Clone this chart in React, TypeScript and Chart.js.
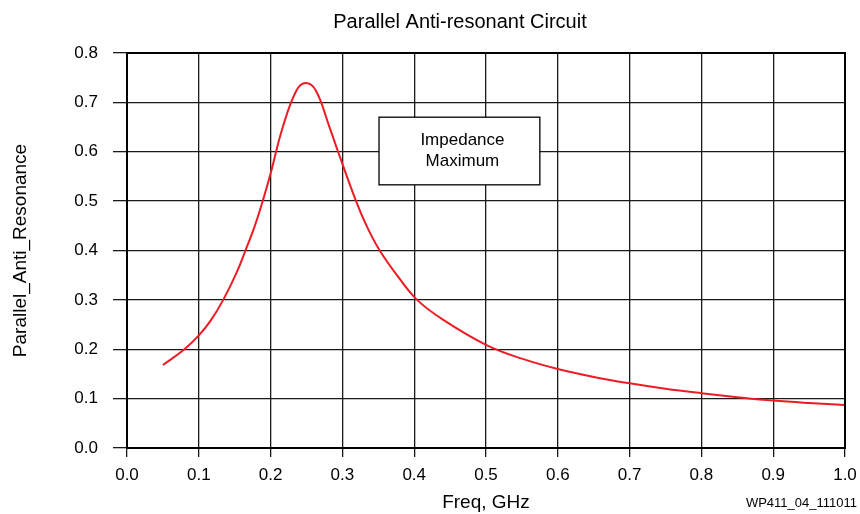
import { useEffect, useRef } from "react";
import { Chart, registerables } from "chart.js";

Chart.register(...registerables);

// Frequency sweep (GHz) and the anti-resonance response at each frequency
const freqGHz = [
  0.05, 0.08, 0.1, 0.117, 0.134, 0.152, 0.165, 0.178, 0.189, 0.2, 0.217, 0.236,
  0.249, 0.263, 0.282, 0.294, 0.319, 0.334, 0.352, 0.378, 0.404, 0.44, 0.5,
  0.55, 0.6, 0.65, 0.7, 0.75, 0.8, 0.85, 0.9, 0.95, 1.0,
];
const antiResonance = [
  0.168, 0.2, 0.228, 0.259, 0.3, 0.353, 0.4, 0.45, 0.5, 0.556, 0.65, 0.724,
  0.739, 0.724, 0.65, 0.6, 0.5, 0.449, 0.4, 0.346, 0.3, 0.26, 0.209, 0.181,
  0.16, 0.144, 0.131, 0.12, 0.111, 0.103, 0.096, 0.091, 0.087,
];

const chartTitle = "Parallel Anti-resonant Circuit";
const xAxisTitle = "Freq, GHz";
const yAxisTitle = "Parallel_Anti_Resonance";
const figureId = "WP411_04_111011";
const calloutLines = ["Impedance", "Maximum"];
// Callout extent in data units (GHz, response)
const calloutBox = { x0: 0.351, x1: 0.575, y0: 0.533, y1: 0.67 };

const FONT = '"Liberation Sans", Arial, Helvetica, sans-serif';
const INK = "#000000";

const decorations = {
  id: "decorations",
  afterDatasetsDraw(chart: any) {
    const { ctx, chartArea, scales } = chart;
    const x = scales.x;
    const y = scales.y;
    ctx.save();

    // Heavy frame around the plotting area
    ctx.lineWidth = 2;
    ctx.strokeStyle = INK;
    ctx.strokeRect(
      chartArea.left,
      chartArea.top,
      chartArea.right - chartArea.left,
      chartArea.bottom - chartArea.top
    );

    // "Impedance Maximum" callout
    const l = x.getPixelForValue(calloutBox.x0);
    const r = x.getPixelForValue(calloutBox.x1);
    const t = y.getPixelForValue(calloutBox.y1);
    const b = y.getPixelForValue(calloutBox.y0);
    ctx.fillStyle = "#ffffff";
    ctx.fillRect(l, t, r - l, b - t);
    ctx.lineWidth = 1.3;
    ctx.strokeStyle = INK;
    ctx.strokeRect(l, t, r - l, b - t);
    ctx.fillStyle = INK;
    ctx.font = `17px ${FONT}`;
    ctx.textAlign = "center";
    ctx.textBaseline = "middle";
    const cx = (l + r) / 2 + 3;
    const cy = (t + b) / 2;
    ctx.fillText(calloutLines[0], cx, cy - 11);
    ctx.fillText(calloutLines[1], cx, cy + 10);

    // Chart title
    ctx.font = `20px ${FONT}`;
    ctx.fillText(chartTitle, 460, 22);

    // Figure identifier
    ctx.font = `13px ${FONT}`;
    ctx.textAlign = "right";
    ctx.fillText(figureId, 857, 503);

    ctx.restore();
  },
};

export default function App() {
  const canvasRef = useRef<HTMLCanvasElement | null>(null);

  useEffect(() => {
    if (!canvasRef.current) return;
    const points = freqGHz.map((f, i) => ({ x: f, y: antiResonance[i] }));
    const chart = new Chart(canvasRef.current, {
      type: "line",
      data: {
        datasets: [
          {
            data: points,
            borderColor: "rgb(237, 28, 36)",
            borderWidth: 2,
            pointRadius: 0,
            fill: false,
            tension: 0.4,
          },
        ],
      },
      options: {
        responsive: false,
        animation: false,
        events: [],
        layout: { padding: { top: 53, right: 15, bottom: 0, left: 0 } },
        plugins: {
          legend: { display: false },
          title: { display: false },
          tooltip: { enabled: false },
        },
        scales: {
          x: {
            type: "linear",
            min: 0,
            max: 1,
            afterFit: (scale: any) => {
              scale.height = 66;
              scale.paddingLeft = 0;
              scale.paddingRight = 0;
            },
            ticks: {
              stepSize: 0.1,
              color: INK,
              padding: 8,
              maxRotation: 0,
              font: { family: FONT, size: 17 },
              callback: (v: any) => Number(v).toFixed(1),
            },
            grid: {
              color: "#1a1a1a",
              lineWidth: 1.3,
              drawTicks: true,
              tickLength: 9,
            },
            border: { display: true, color: INK, width: 2 },
            title: {
              display: true,
              text: xAxisTitle,
              color: INK,
              font: { family: FONT, size: 19 },
              padding: { top: 0, bottom: 0 },
            },
          },
          y: {
            type: "linear",
            min: 0,
            max: 0.8,
            afterFit: (scale: any) => {
              scale.width = 127;
            },
            ticks: {
              stepSize: 0.1,
              color: INK,
              padding: 15,
              font: { family: FONT, size: 17 },
              callback: (v: any) => Number(v).toFixed(1),
            },
            grid: {
              color: "#1a1a1a",
              lineWidth: 1.3,
              drawTicks: true,
              tickLength: 14,
            },
            border: { display: true, color: INK, width: 2 },
            title: {
              display: true,
              text: yAxisTitle,
              color: INK,
              font: { family: FONT, size: 19 },
              padding: { top: 9, bottom: 0 },
            },
          },
        },
      },
      plugins: [decorations],
    });
    return () => chart.destroy();
  }, []);

  return (
    <div style={{ position: "fixed", left: 0, top: 0, width: 860, height: 514, background: "#fff" }}>
      <canvas ref={canvasRef} width={860} height={514} />
    </div>
  );
}
